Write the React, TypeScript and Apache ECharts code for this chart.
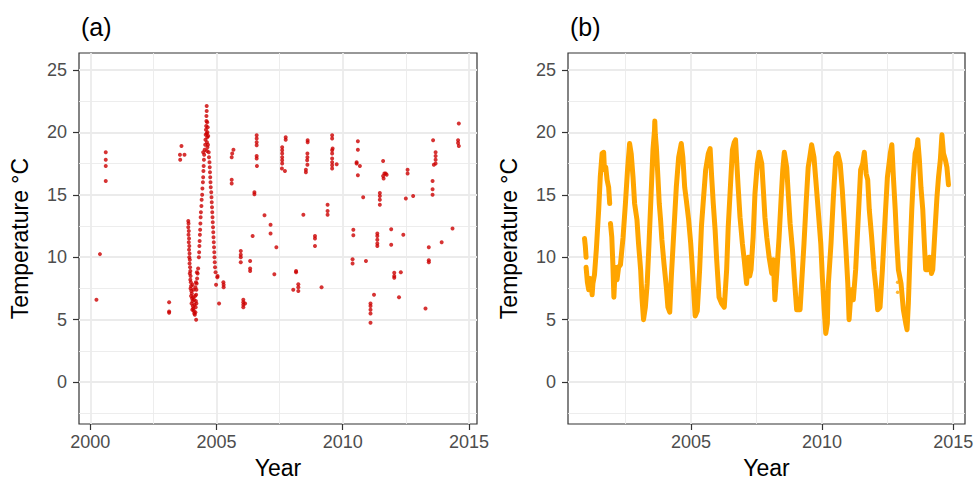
import React, { useEffect, useRef } from "react";
import * as echarts from "echarts";

const FONT = '"Liberation Sans", Arial, Helvetica, sans-serif';

// Axis tick labels
const yearTicks = [2000, 2005, 2010, 2015];
const yearMinor = [2002.5, 2007.5, 2012.5];
const tempTicks = [0, 5, 10, 15, 20, 25];
const tempMinor = [-2.5, 2.5, 7.5, 12.5, 17.5, 22.5];

// Panel (a): sparse observations (year, temperature °C)
const obsEarly: [number, number][] = [
  [2000.24, 6.6], [2000.38, 10.25], [2000.61, 18.4], [2000.61, 17.8], [2000.61, 17.3], [2000.61, 16.1],
  [2003.12, 6.4], [2003.12, 5.65], [2003.12, 5.55],
  [2003.61, 18.9], [2003.55, 18.2], [2003.73, 18.2], [2003.56, 17.8],
];

const obs2004Winter: [number, number][] = [
  [2003.88, 12.9], [2003.89, 12.7], [2003.88, 12.4], [2003.9, 12.1], [2003.89, 11.8], [2003.91, 11.5],
  [2003.9, 11.2], [2003.92, 10.9], [2003.91, 10.6], [2003.93, 10.3], [2003.92, 10.0], [2003.94, 9.8],
  [2003.93, 9.5], [2003.95, 9.2], [2003.96, 8.9], [2003.94, 8.7], [2003.97, 8.5], [2003.96, 8.2],
  [2003.98, 8.0], [2003.99, 7.7], [2003.97, 7.5], [2004.0, 7.3], [2004.02, 7.1], [2003.99, 6.9],
  [2004.03, 6.7], [2004.05, 6.5], [2004.01, 6.3], [2004.06, 6.1], [2004.08, 5.9], [2004.04, 5.8],
  [2004.1, 5.7], [2004.12, 5.5], [2004.14, 5.4], [2004.16, 5.6], [2004.19, 5.0], [2004.07, 6.8],
  [2004.09, 7.4], [2004.11, 6.6], [2004.05, 7.8], [2004.13, 6.2],
  [2004.17, 6.0], [2004.18, 6.5], [2004.19, 7.0], [2004.2, 7.4], [2004.21, 7.9], [2004.23, 8.3],
  [2004.25, 8.7], [2004.27, 9.1], [2004.18, 8.0], [2004.16, 7.6], [2004.15, 6.9], [2004.2, 6.3],
  [2004.22, 8.8],
];

const obs2004Summer: [number, number][] = [
  [2004.3, 10.0], [2004.31, 10.4], [2004.32, 10.9], [2004.33, 11.3], [2004.34, 11.8], [2004.35, 12.2],
  [2004.36, 12.7], [2004.37, 13.2], [2004.38, 13.6], [2004.4, 14.1], [2004.41, 14.6], [2004.43, 15.0],
  [2004.44, 15.5], [2004.46, 16.0], [2004.47, 16.4], [2004.48, 16.9], [2004.49, 17.3], [2004.5, 17.8],
  [2004.51, 18.2], [2004.47, 18.4], [2004.53, 18.6], [2004.55, 19.0], [2004.56, 19.4], [2004.57, 19.8],
  [2004.58, 20.2], [2004.59, 20.5], [2004.6, 20.9], [2004.6, 21.3], [2004.61, 21.7], [2004.61, 22.1],
  [2004.62, 19.2], [2004.63, 19.6], [2004.64, 20.0], [2004.65, 20.4], [2004.63, 20.8], [2004.66, 19.0],
  [2004.64, 18.8], [2004.67, 19.7], [2004.62, 18.5], [2004.61, 19.9],
  [2004.69, 18.4], [2004.7, 18.0], [2004.72, 17.6], [2004.73, 17.2], [2004.74, 16.8], [2004.75, 16.4],
  [2004.76, 16.0], [2004.77, 15.6], [2004.79, 15.2], [2004.8, 14.8], [2004.81, 14.4], [2004.82, 14.0],
  [2004.83, 13.6], [2004.84, 13.2], [2004.85, 12.8], [2004.86, 12.4], [2004.87, 12.0], [2004.88, 11.6],
  [2004.89, 11.2], [2004.9, 10.8], [2004.91, 10.4], [2004.92, 10.0], [2004.93, 9.6], [2004.94, 9.2],
  [2004.96, 8.8], [2004.98, 7.8], [2005.03, 8.4], [2005.04, 8.5], [2005.1, 6.3],
  [2005.27, 8.0], [2005.28, 7.8], [2005.28, 7.6],
];

const obsLater: [number, number][] = [
  [2005.67, 18.6], [2005.62, 18.3], [2005.6, 18.0], [2005.6, 16.2], [2005.6, 15.9],
  [2005.96, 10.5], [2005.96, 10.2], [2005.96, 10.0], [2005.96, 9.6],
  [2006.06, 6.6], [2006.06, 6.4], [2006.06, 6.2], [2006.06, 6.0], [2006.13, 6.3],
  [2006.33, 9.7], [2006.33, 9.1], [2006.33, 8.9], [2006.43, 11.7],
  [2006.5, 15.2], [2006.5, 15.05],
  [2006.59, 19.76], [2006.59, 19.5], [2006.59, 19.2], [2006.59, 18.96], [2006.59, 18.1], [2006.59, 17.9], [2006.6, 17.3],
  [2006.9, 13.36], [2007.14, 12.6], [2007.14, 11.9], [2007.29, 8.64], [2007.37, 10.8],
  [2007.6, 18.8], [2007.6, 18.56], [2007.6, 18.3], [2007.6, 18.0], [2007.6, 17.76], [2007.6, 17.5], [2007.59, 17.1],
  [2007.71, 16.9], [2007.74, 19.6], [2007.74, 19.4],
  [2008.04, 7.4], [2008.15, 8.9], [2008.15, 8.8], [2008.24, 7.84], [2008.24, 7.6], [2008.24, 7.3],
  [2008.44, 13.4],
  [2008.61, 19.36], [2008.61, 19.2], [2008.6, 18.3], [2008.6, 18.0], [2008.59, 17.76], [2008.6, 17.4],
  [2008.54, 17.0], [2008.54, 16.8],
  [2008.9, 11.7], [2008.9, 11.5], [2008.9, 10.9], [2009.16, 7.6],
  [2009.4, 14.2], [2009.4, 13.7], [2009.4, 13.4],
  [2009.58, 19.76], [2009.58, 19.5], [2009.58, 18.56], [2009.58, 18.3], [2009.58, 17.9], [2009.58, 17.6],
  [2009.58, 17.36], [2009.58, 17.1], [2009.6, 18.7], [2009.76, 17.44],
  [2010.42, 12.2], [2010.42, 11.76], [2010.39, 9.84], [2010.39, 9.5],
  [2010.6, 19.28], [2010.6, 18.6], [2010.55, 17.6], [2010.55, 17.5], [2010.68, 17.3], [2010.6, 16.56],
  [2010.81, 14.8], [2010.92, 9.7],
  [2011.1, 6.3], [2011.1, 6.1], [2011.1, 5.8], [2011.1, 5.5], [2011.1, 4.75], [2011.24, 7.0],
  [2011.37, 11.9], [2011.37, 11.7], [2011.37, 11.4], [2011.37, 11.1], [2011.37, 10.9],
  [2011.47, 15.15], [2011.47, 14.9], [2011.47, 14.6], [2011.47, 14.2],
  [2011.6, 17.7], [2011.6, 16.5], [2011.65, 16.7], [2011.7, 16.7], [2011.74, 16.6], [2011.62, 16.3],
  [2011.92, 12.24], [2011.92, 11.0],
  [2012.04, 8.75], [2012.04, 8.5], [2012.04, 8.35], [2012.23, 6.8], [2012.3, 8.8], [2012.4, 11.8],
  [2012.5, 14.7], [2012.57, 17.0], [2012.57, 16.7], [2012.79, 14.9],
  [2013.28, 5.9], [2013.41, 10.8], [2013.41, 9.76], [2013.41, 9.6],
  [2013.56, 16.1], [2013.56, 15.45], [2013.56, 15.0], [2013.58, 19.36],
  [2013.68, 18.4], [2013.68, 18.1], [2013.68, 17.8], [2013.68, 17.5], [2013.61, 17.4],
  [2013.92, 11.2], [2014.35, 12.3],
  [2014.6, 20.7], [2014.57, 19.36], [2014.57, 19.15], [2014.6, 18.9],
];

// Panel (b): continuous record, split where the record has gaps
const contSeg1: [number, number][] = [
  [2000.94, 11.5], [2000.97, 10.9], [2001.0, 10.0],
];
const contSeg2: [number, number][] = [
  [2001.0, 9.2], [2001.05, 8.0], [2001.1, 7.4], [2001.15, 8.3], [2001.2, 7.9], [2001.23, 7.0],
  [2001.26, 7.9], [2001.32, 8.6], [2001.39, 10.6], [2001.48, 13.8], [2001.54, 16.4], [2001.61, 18.3],
  [2001.67, 18.4], [2001.7, 17.0], [2001.75, 17.2], [2001.8, 16.2], [2001.86, 15.6], [2001.9, 14.3],
];
const contSeg3: [number, number][] = [
  [2001.93, 12.7], [2001.98, 11.6], [2002.02, 9.5], [2002.06, 6.8], [2002.11, 9.2], [2002.18, 8.2],
  [2002.24, 9.2], [2002.31, 9.4], [2002.41, 11.6], [2002.5, 14.3], [2002.58, 17.0], [2002.66, 19.1],
  [2002.72, 18.3], [2002.79, 16.4], [2002.85, 14.3], [2002.94, 13.0], [2003.0, 11.1], [2003.08, 9.0],
  [2003.13, 6.8], [2003.19, 5.0], [2003.26, 6.0], [2003.33, 7.9], [2003.4, 11.1], [2003.48, 15.1],
  [2003.55, 18.6], [2003.61, 20.2], [2003.62, 20.9], [2003.64, 19.8], [2003.68, 18.8], [2003.74, 16.4],
  [2003.79, 14.3], [2003.84, 13.0], [2003.89, 11.4], [2003.97, 9.5], [2004.06, 7.6], [2004.12, 6.0],
  [2004.19, 5.6], [2004.25, 8.4], [2004.35, 12.2], [2004.44, 15.6], [2004.53, 18.0], [2004.63, 19.1],
  [2004.69, 18.0], [2004.76, 15.6], [2004.82, 14.6], [2004.91, 13.0], [2004.99, 11.1], [2005.04, 9.5],
  [2005.1, 7.4], [2005.16, 5.3], [2005.24, 5.7], [2005.33, 9.0], [2005.4, 12.5], [2005.47, 14.5],
  [2005.56, 17.0], [2005.66, 18.3], [2005.73, 18.7], [2005.79, 16.4], [2005.85, 14.3], [2005.92, 12.2],
  [2005.98, 9.8], [2006.07, 6.8], [2006.17, 6.3], [2006.27, 6.0], [2006.36, 9.0], [2006.42, 12.4],
  [2006.51, 15.9], [2006.58, 18.6], [2006.65, 19.2], [2006.7, 19.4], [2006.74, 17.8], [2006.8, 15.6],
  [2006.87, 13.2], [2006.96, 11.1], [2007.03, 9.8], [2007.12, 7.9], [2007.19, 10.0], [2007.24, 8.5],
  [2007.29, 9.0], [2007.37, 11.6], [2007.44, 15.1], [2007.53, 17.5], [2007.6, 18.4], [2007.7, 17.5],
  [2007.76, 15.4], [2007.82, 13.2], [2007.89, 11.6], [2007.98, 10.0], [2008.08, 8.7], [2008.14, 9.8],
  [2008.2, 6.6], [2008.27, 8.7], [2008.36, 11.6], [2008.44, 14.8], [2008.5, 17.0], [2008.56, 18.4],
  [2008.65, 17.2], [2008.71, 15.1], [2008.78, 12.7], [2008.87, 10.6], [2008.94, 8.4], [2009.03, 5.8],
  [2009.16, 5.8], [2009.22, 7.9], [2009.31, 11.1], [2009.39, 14.3], [2009.47, 17.2], [2009.53, 18.0],
  [2009.6, 19.0], [2009.69, 18.0], [2009.76, 16.2], [2009.85, 13.8], [2009.95, 11.1], [2010.01, 8.4],
  [2010.08, 5.8], [2010.14, 3.9], [2010.2, 4.7], [2010.24, 7.9], [2010.34, 11.1], [2010.43, 14.8],
  [2010.52, 18.0], [2010.6, 18.3], [2010.69, 17.5], [2010.77, 15.4], [2010.85, 12.7], [2010.91, 10.6],
  [2010.98, 7.9], [2011.03, 5.0], [2011.11, 7.4], [2011.19, 6.6], [2011.28, 9.0], [2011.38, 13.2],
  [2011.47, 17.0], [2011.55, 17.5], [2011.61, 18.4], [2011.68, 16.7], [2011.74, 16.2], [2011.8, 13.8],
  [2011.89, 11.6], [2011.98, 9.0], [2012.06, 7.4], [2012.12, 5.8], [2012.21, 6.0], [2012.3, 9.0],
  [2012.4, 13.0], [2012.49, 16.4], [2012.6, 18.3], [2012.66, 19.0], [2012.72, 16.4], [2012.79, 13.8],
  [2012.85, 11.1], [2012.91, 9.0], [2013.01, 7.9], [2013.1, 5.8], [2013.19, 4.7], [2013.24, 4.2],
  [2013.29, 6.3], [2013.36, 10.6], [2013.42, 13.8], [2013.48, 16.4], [2013.55, 18.3], [2013.62, 18.8],
  [2013.65, 19.4], [2013.71, 17.8], [2013.77, 15.6], [2013.84, 13.8], [2013.9, 11.1], [2013.95, 9.0],
  [2014.03, 9.0], [2014.1, 10.0], [2014.17, 8.7], [2014.22, 9.0], [2014.29, 11.6], [2014.38, 14.8],
  [2014.44, 16.4], [2014.51, 17.8], [2014.57, 19.8], [2014.63, 18.3], [2014.7, 17.8], [2014.76, 17.2],
  [2014.82, 15.8],
];
const contStray: [number, number][] = [[2012.88, 7.2], [2012.88, 8.0]];

const RED = "#CC0000";
const ORANGE = "#FFA500";
const GRID_COLOR = "#EBEBEB";
const INK = "#333333";

const plainNumber = (v: number) => String(v);

function xAxes(gridIndex: number, min: number, max: number) {
  return [
    {
      type: "value", gridIndex, min, max, position: "bottom",
      axisLine: { show: false, onZero: false },
      axisTick: { show: true, length: 6, lineStyle: { color: INK, width: 1.2 }, customValues: yearTicks },
      axisLabel: { show: true, customValues: yearTicks, formatter: plainNumber, color: "#4D4D4D", fontSize: 18, margin: 9, fontFamily: FONT },
      splitLine: { show: true, lineStyle: { color: GRID_COLOR, width: 1.8 } },
      name: "Year", nameLocation: "middle", nameGap: 32,
      nameTextStyle: { fontSize: 23, color: "#000", fontFamily: FONT },
    },
    {
      type: "value", gridIndex, min, max, position: "bottom",
      axisLine: { show: false, onZero: false },
      axisTick: { show: false, customValues: yearMinor },
      axisLabel: { show: false },
      splitLine: { show: true, lineStyle: { color: GRID_COLOR, width: 0.9 } },
    },
  ];
}

function yAxes(gridIndex: number) {
  const min = -3.35, max = 26.35;
  return [
    {
      type: "value", gridIndex, min, max, position: "left",
      axisLine: { show: false, onZero: false },
      axisTick: { show: true, length: 6, lineStyle: { color: INK, width: 1.2 }, customValues: tempTicks },
      axisLabel: { show: true, customValues: tempTicks, formatter: plainNumber, color: "#4D4D4D", fontSize: 18, margin: 12, fontFamily: FONT },
      splitLine: { show: true, lineStyle: { color: GRID_COLOR, width: 1.8 } },
      name: "Temperature \u00B0C", nameLocation: "middle", nameGap: 48,
      nameTextStyle: { fontSize: 23, color: "#000", fontFamily: FONT },
    },
    {
      type: "value", gridIndex, min, max, position: "left",
      axisLine: { show: false, onZero: false },
      axisTick: { show: false, customValues: tempMinor },
      axisLabel: { show: false },
      splitLine: { show: true, lineStyle: { color: GRID_COLOR, width: 0.9 } },
    },
  ];
}

export default function App() {
  const ref = useRef<HTMLDivElement>(null);
  useEffect(() => {
    if (!ref.current) return;
    const chart = echarts.init(ref.current, null, { renderer: "svg" });
    const lineSeries = (data: [number, number][]) => ({
      type: "line", xAxisIndex: 2, yAxisIndex: 2, data, showSymbol: false, silent: true,
      lineStyle: { color: ORANGE, width: 5, cap: "round", join: "round" }, z: 3,
    });
    chart.setOption({
      animation: false,
      backgroundColor: "#fff",
      title: [
        { text: "(a)", left: 76, top: 9, textStyle: { fontSize: 25, fontWeight: "normal", color: "#000", fontFamily: FONT } },
        { text: "(b)", left: 565, top: 9, textStyle: { fontSize: 25, fontWeight: "normal", color: "#000", fontFamily: FONT } },
      ],
      grid: [
        { left: 79, top: 53, width: 398, height: 371, outerBoundsMode: "none", containLabel: false, show: true, borderColor: INK, borderWidth: 1.2, backgroundColor: "#fff" },
        { left: 568, top: 53, width: 397, height: 371, outerBoundsMode: "none", containLabel: false, show: true, borderColor: INK, borderWidth: 1.2, backgroundColor: "#fff" },
      ],
      xAxis: [...xAxes(0, 1999.55, 2015.32), ...xAxes(1, 2000.31, 2015.45)],
      yAxis: [...yAxes(0), ...yAxes(1)],
      series: [
        ...[obsEarly, obs2004Winter, obs2004Summer, obsLater].map((d) => ({
          type: "scatter", xAxisIndex: 0, yAxisIndex: 0, data: d, symbolSize: 4, silent: true,
          itemStyle: { color: RED }, z: 3,
        })),
        lineSeries(contSeg1),
        lineSeries(contSeg2),
        lineSeries(contSeg3),
        {
          type: "scatter", xAxisIndex: 2, yAxisIndex: 2, data: contStray, symbolSize: 3.5, silent: true,
          itemStyle: { color: ORANGE }, z: 3,
        },
      ],
    });
    return () => chart.dispose();
  }, []);
  return (
    <div
      ref={ref}
      style={{ position: "fixed", left: 0, top: 0, width: 974, height: 479, background: "#fff" }}
    />
  );
}
